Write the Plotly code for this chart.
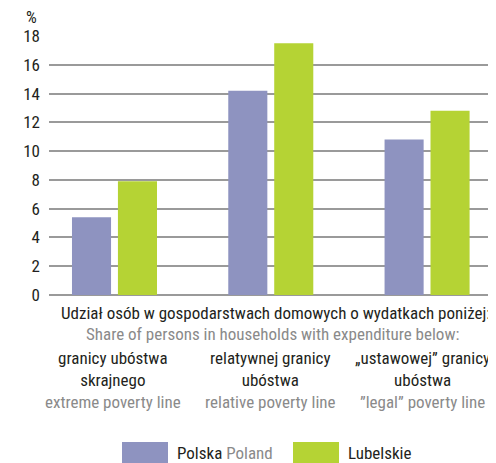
import plotly.graph_objects as go

categories = ["granicy ubóstwa skrajnego", "relatywnej granicy ubóstwa", "„ustawowej” granicy ubóstwa"]
cat_labels_pl = ["granicy ubóstwa<br>skrajnego", "relatywnej granicy<br>ubóstwa", "„ustawowej” granicy<br>ubóstwa"]
cat_labels_en = ["extreme poverty line", "relative poverty line", "”legal” poverty line"]
polska = [5.4, 14.2, 10.8]
lubelskie = [7.9, 17.5, 12.8]
y_ticks = [0, 2, 4, 6, 8, 10, 12, 14, 16, 18]

DARK = "#231f20"
GREY = "#8a8a8a"
C_PL = "#8e93c0"
C_LU = "#b5d334"
FAM = "Roboto"

def cond(s):
    return "<span style='font-stretch:condensed'>" + s + "</span>"

OFF = 8
W, H = 496 - OFF, 463 - OFF
L, R, T, B = 49 - OFF, 0, 36 - OFF, 168
PW, PH = W - L - R, H - T - B

def px(X):
    return (X - OFF - L) / PW

def py(Y):
    return (H - B - (Y - OFF)) / PH

xs = list(range(len(categories)))
label_shift = [-1, 0, -5]

fig = go.Figure()
fig.add_trace(go.Bar(x=xs, y=polska, name="Polska", marker=dict(color=C_PL, line=dict(width=0)),
                     width=0.25, offset=-0.272, hoverinfo="skip"))
fig.add_trace(go.Bar(x=xs, y=lubelskie, name="Lubelskie", marker=dict(color=C_LU, line=dict(width=0)),
                     width=0.25, offset=0.022, hoverinfo="skip"))

ann = []
ann.append(dict(text=cond("%"), x=px(31), y=py(17), xref="paper", yref="paper", showarrow=False,
                font=dict(family=FAM, size=17, color=DARK), xanchor="center", yanchor="middle"))
ann.append(dict(text=cond("Udział osób w gospodarstwach domowych o wydatkach poniżej:"), x=px(275), y=py(313),
                xref="paper", yref="paper", showarrow=False,
                font=dict(family=FAM, size=17, color=DARK), xanchor="center", yanchor="middle"))
ann.append(dict(text=cond("Share of persons in households with expenditure below:"), x=px(272), y=py(334),
                xref="paper", yref="paper", showarrow=False,
                font=dict(family=FAM, size=17, color=GREY), xanchor="center", yanchor="middle"))
for i in xs:
    ann.append(dict(text=cond(cat_labels_pl[i] + "<br><span style='color:" + GREY + "'>" + cat_labels_en[i] + "</span>"),
                    x=i, y=py(380), xref="x", yref="paper", showarrow=False, align="center",
                    xshift=label_shift[i],
                    font=dict(family=FAM, size=17, color=DARK), xanchor="center", yanchor="middle"))

shapes = [
    dict(type="rect", xref="paper", yref="paper", x0=px(122), x1=px(168), y0=py(470), y1=py(442),
         fillcolor=C_PL, line=dict(width=0)),
    dict(type="rect", xref="paper", yref="paper", x0=px(293), x1=px(339), y0=py(470), y1=py(442),
         fillcolor=C_LU, line=dict(width=0)),
]
ann.append(dict(text=cond("Polska <span style='color:" + GREY + "'>Poland</span>"), x=px(175), y=py(453),
                xref="paper", yref="paper", showarrow=False,
                font=dict(family=FAM, size=17, color=DARK), xanchor="left", yanchor="middle"))
ann.append(dict(text=cond("Lubelskie"), x=px(346), y=py(453),
                xref="paper", yref="paper", showarrow=False,
                font=dict(family=FAM, size=17, color=DARK), xanchor="left", yanchor="middle"))

fig.update_layout(
    width=W, height=H,
    margin=dict(l=L, r=R, t=T, b=B, pad=0),
    paper_bgcolor="white", plot_bgcolor="white",
    showlegend=False, barmode="overlay",
    annotations=ann, shapes=shapes,
    xaxis=dict(range=[-0.419, 2.441], showticklabels=False, showgrid=False, zeroline=False,
               showline=False, ticks="", fixedrange=True),
    yaxis=dict(range=[0, 18], tickvals=y_ticks, ticktext=[cond(str(v)) for v in y_ticks],
               showgrid=True, gridcolor="#9a9a9a", gridwidth=1.5,
               zeroline=True, zerolinecolor="#9a9a9a", zerolinewidth=1.5, showline=False,
               ticks="", ticklabelstandoff=8,
               tickfont=dict(family=FAM, size=17, color=DARK), fixedrange=True),
)

fig.write_html("out.html", config={"displayModeBar": False})
